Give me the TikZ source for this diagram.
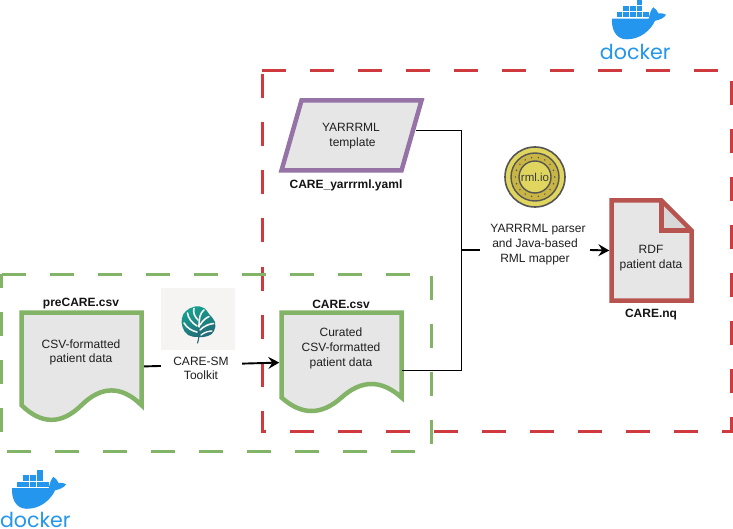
\documentclass[tikz,border=0pt]{standalone}
\usepackage{fontspec}
\setmainfont{Liberation Sans}
\newfontfamily\dockerfont{Poppins}
\usetikzlibrary{arrows.meta}
\definecolor{redbox}{HTML}{CF3A3E}
\definecolor{greenbox}{HTML}{82B366}
\definecolor{purpleline}{HTML}{9673A6}
\definecolor{redline}{HTML}{B85450}
\definecolor{docfill}{HTML}{E6E6E6}
\definecolor{foldfill}{HTML}{D8D8D8}
\definecolor{dockerblue}{HTML}{2496ED}
\definecolor{leafbg}{HTML}{F5F4F2}
\definecolor{leafa}{HTML}{17A08F}
\definecolor{leafb}{HTML}{226B78}
\definecolor{rmlyellow}{HTML}{E0D55E}
\definecolor{rmldark}{HTML}{C9B544}
\definecolor{rmlgray}{HTML}{555555}
\tikzset{
  groupbox/.style={line width=3pt,dash pattern=on 24pt off 24pt},
  shapeline/.style={line width=4.5pt,miter limit=10,fill=docfill},
  txt/.style={font=\fontsize{12}{14.7}\selectfont,align=center,text=black!88,inner sep=0pt},
  boldtxt/.style={font=\fontsize{12}{14.7}\selectfont\bfseries,inner sep=0pt,text=black!92},
  ghost/.style={inner sep=0pt,outer sep=0pt},
  link/.style={line width=1.9pt,black},
  flow/.style={line width=1.9pt,black,-{Stealth[length=11pt,width=12pt,inset=4pt]}},
  dockerbox/.style={fill=dockerblue,draw=none},
}
\newcommand{\csvdoc}[4]{% x, y, w, h
  \pgfmathsetmacro{\dw}{#3}\pgfmathsetmacro{\dh}{#4}\pgfmathsetmacro{\dy}{0.3*#4}
  \begin{scope}[shift={(#1,#2)}]
    \draw[shapeline,draw=greenbox] (0,0) -- (\dw,0) -- (\dw,\dh-\dy/2)
      .. controls ({\dw-\dw/6},{\dh-\dy/2-(\dy*0.9)*2/3}) and ({\dw/2+\dw/6},{\dh-\dy/2-(\dy*0.9)*2/3}) .. ({\dw/2},{\dh-\dy/2})
      .. controls ({\dw/2-\dw/6},{\dh-\dy/2+(\dy*0.9)*2/3}) and ({\dw/6},{\dh-\dy/2+(\dy*0.9)*2/3}) .. (0,{\dh-\dy/2})
      -- cycle;
  \end{scope}}
\newcommand{\dockerlogo}[4]{% x, y, name, text baseline
  \begin{scope}[shift={(#1,#2)}]
    \foreach \bx in {16,22.6,29.3,36,42.6} \fill[dockerbox] (\bx,12.4) rectangle ++(5.7,5.1);
    \foreach \bx in {22.6,29.3,36} \fill[dockerbox] (\bx,5.8) rectangle ++(5.7,5.7);
    \fill[dockerbox] (36,0) rectangle ++(5.7,5);
    \fill[dockerbox] (11.3,18.6) -- (48,18.6)
      .. controls (49,14) and (50,10) .. (52.6,7.3)
      .. controls (55,9) and (57,11) .. (57.6,13.3)
      .. controls (60,13) and (63,13.4) .. (65.3,14.7)
      .. controls (63.5,18) and (59,19.8) .. (54.3,20.8)
      .. controls (50,30) and (40,39.3) .. (26,39.3)
      .. controls (15,39.3) and (10.5,29) .. (11.3,18.6) -- cycle;
    \node[ghost,anchor=base west,text=dockerblue,font=\dockerfont\fontsize{20.6}{20.6}\selectfont] (#3) at (-0.8,#4) {docker};
  \end{scope}}
\begin{document}
\begin{tikzpicture}[x=1pt,y=-1pt]
\useasboundingbox (0,0) rectangle (733,529);
\fill[white] (0,0) rectangle (733,529);

% group frames
\draw[groupbox,draw=redbox] (262,70.5) -- (731.5,70.5) -- (731.5,431) -- (262,431) -- cycle;
\draw[groupbox,draw=greenbox] (1.5,274) -- (431.5,274) -- (431.5,451) -- (1.5,451) -- cycle;

% docker logos
\dockerlogo{600.7}{0}{dockertop}{59.3}
\dockerlogo{0.8}{469.5}{dockerbottom}{58.2}

% anchors of shapes
\node[ghost,minimum width=120pt,minimum height=110pt] (precare) at (81.5,366.5) {};
\node[ghost,minimum width=120pt,minimum height=100pt] (care) at (341.5,362.5) {};
\node[ghost,minimum width=80pt,minimum height=100pt] (rdf) at (651.5,250.5) {};
\coordinate (yarrout) at (415.5,130.5);
\coordinate (careout) at (401.5,370.5);
\coordinate (bus) at (461.5,250);

% connector through toolkit (label covers the middle)
\draw[flow,shorten >=2.2pt,shorten <=2.2pt] (precare.east) -- (care.west);

% toolkit
\fill[white] (161,350) rectangle (242,386);
\node[ghost,minimum width=74pt,minimum height=62pt,fill=leafbg] (leafimg) at (198,319) {};
\shade[top color=leafa,bottom color=leafb,shading angle=25] plot[smooth cycle,tension=0.7] coordinates
  {(198,337) (188,335) (182.5,327) (182,318) (186,311) (195,306.5) (204,308) (209,314) (215,322) (214,331) (208,336)};
\draw[leafbg,line width=1.6pt,line cap=round] (197,332) .. controls (192,331) and (187,328) .. (184,323);
\draw[leafbg,line width=1.6pt,line cap=round] (197,326) .. controls (192,323) and (188,318) .. (187.5,313);
\draw[leafbg,line width=1.6pt,line cap=round] (198,320) .. controls (194,316) and (193,312) .. (194,308.5);
\draw[leafbg,line width=1.6pt,line cap=round] (199,327) .. controls (199,318) and (200,313) .. (204,310);
\draw[leafbg,line width=1.6pt,line cap=round] (200,325) .. controls (203,320) and (206,318) .. (209,316.5);
\draw[leafbg,line width=1.6pt,line cap=round] (200,330) .. controls (204,326) and (209,324) .. (213.5,323.5);
\draw[leafbg,line width=1.4pt,line cap=round] (201,335) .. controls (205,332) and (209,331) .. (212,331);
\draw[leafb,line width=1.1pt,line cap=round] (198.5,328) .. controls (199.5,334) and (199,339) .. (197.5,343);
\node[txt] (toolkit) at (201,368.5) {CARE-SM\\Toolkit};

% documents
\csvdoc{21.5}{312.5}{120}{109}
\csvdoc{281.5}{312.5}{120}{100}
\node[boldtxt] (precarename) at (81,304) {preCARE.csv};
\node[txt] (precaretext) at (81,352.5) {CSV-formatted\\patient data};
\node[boldtxt] (carename) at (341,304) {CARE.csv};
\node[txt] (caretext) at (341,348.5) {Curated\\CSV-formatted\\patient data};

% template
\draw[shapeline,draw=purpleline] (281.5,170.5) -- (301.5,100.5) -- (421.5,100.5) -- (401.5,170.5) -- cycle;
\node[txt] (yarrtext) at (351,136) {YARRRML\\\kern3pt template};
\node[boldtxt] (yarrname) at (346,185) {CARE\_yarrrml.yaml};

% rml logo
\node[circle,draw=rmlgray,line width=1.6pt,fill=rmlyellow,minimum size=60pt,inner sep=0pt] (rmlouter) at (535,177) {};
\fill[rmldark,draw=rmlgray,line width=1.4pt] (rmlouter.center) circle [radius=24pt];
\foreach \a in {0,20,...,340} \fill[rmlgray] (rmlouter.center) ++(\a:19.7pt) circle [radius=0.8pt];
\node[circle,draw=rmlgray,line width=1.4pt,fill=rmlyellow,minimum size=32pt,inner sep=0pt,font=\fontsize{11.5}{11.5}\selectfont,text=rmlgray!70!black] (rmlinner) at (535,177) {rml.io};

% mapper
\node[txt] (mapper) at (538,244.5) {YARRRML parser\\and Java-based\kern6pt\\RML mapper\kern6pt};
\coordinate (mapperw) at (480,250);
\coordinate (mappere) at (590,250);

% rdf
\fill[docfill] (611.5,200.5) -- (661.5,200.5) -- (691.5,230.5) -- (691.5,300.5) -- (611.5,300.5) -- cycle;
\fill[foldfill] (661.5,200.5) -- (661.5,230.5) -- (691.5,230.5) -- cycle;
\draw[line width=4.5pt,draw=redline] (661.5,200.5) -- (661.5,230.5) -- (691.5,230.5);
\draw[line width=4.5pt,draw=redline,miter limit=10] (611.5,200.5) -- (661.5,200.5) -- (691.5,230.5) -- (691.5,300.5) -- (611.5,300.5) -- cycle;
\node[txt] (rdftext) at (651,258) {RDF\\patient data};
\node[boldtxt] (rdfname) at (651,314.5) {CARE.nq};

% connectors
\draw[link] (yarrout) -| (bus) |- (careout);
\draw[link] (bus) -- (mapperw);
\draw[flow] (mappere) -- (rdf.west -| 609.3,250);
\end{tikzpicture}
\end{document}
